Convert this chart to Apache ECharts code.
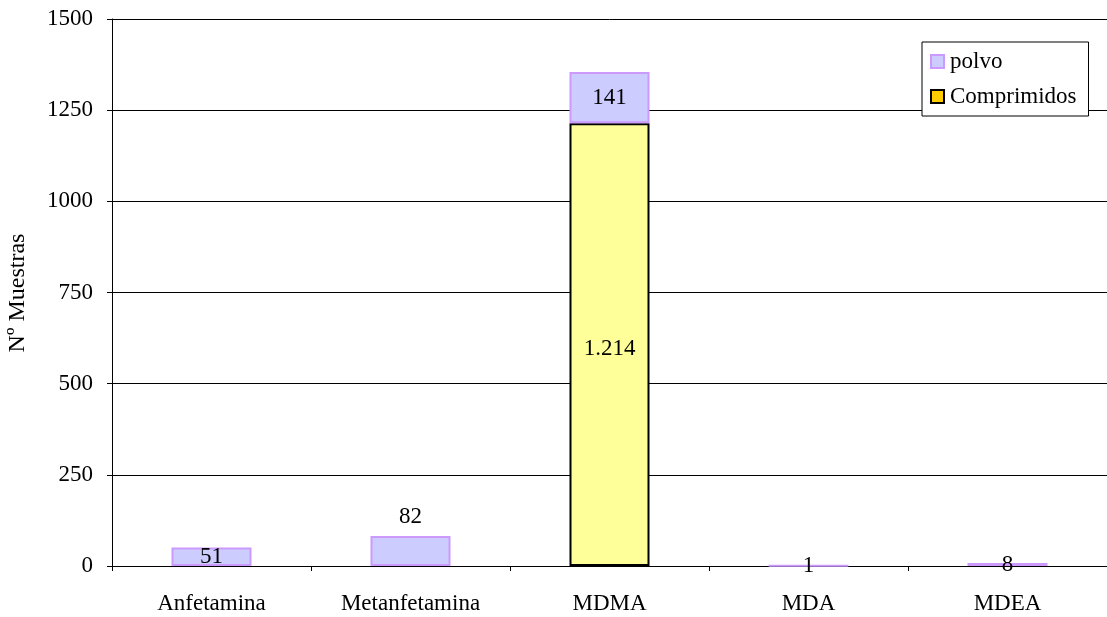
<!DOCTYPE html>
<html>
<head>
<meta charset="utf-8">
<script src="https://cdn.jsdelivr.net/npm/echarts@6/dist/echarts.min.js"></script>
<style>html,body{margin:0;padding:0;background:#fff;}#c{width:1107px;height:617px;}</style>
</head>
<body>
<div id="c"></div>
<script>
const categories = ['Anfetamina', 'Metanfetamina', 'MDMA', 'MDA', 'MDEA'];
const comprimidos = [null, null, 1214, null, null];
const polvo = [51, 82, 141, 1, 8];
const polvoLabelPos = ['inside', 'top', 'inside', 'inside', 'inside'];
const yTicks = { min: 0, max: 1500, interval: 250 };

const FONT = 'Liberation Serif';
const FS = 23;
const fmt = v => String(v).replace(/\B(?=(\d{3})+(?!\d))/g, '.');

const chart = echarts.init(document.getElementById('c'), null, { renderer: 'canvas' });
chart.setOption({
  animation: false,
  backgroundColor: '#fff',
  textStyle: { fontFamily: FONT },
  grid: { left: 112, top: 19, width: 1000, height: 547, containLabel: false },
  legend: {
    left: 922, top: 42, orient: 'vertical', icon: 'rect',
    backgroundColor: '#fff', borderColor: '#000', borderWidth: 1,
    padding: [8, 12, 8, 8], itemWidth: 13, itemHeight: 13, itemGap: 12,
    textStyle: { fontFamily: FONT, fontSize: FS, color: '#000', padding: [0, 0, 0, 1] },
    data: [
      { name: 'polvo', itemStyle: { color: '#CCCCFF', borderColor: '#CC99FF', borderWidth: 2 } },
      { name: 'Comprimidos', itemStyle: { color: '#FFCC00', borderColor: '#000', borderWidth: 2 } }
    ]
  },
  xAxis: {
    type: 'category', data: categories,
    axisLine: { lineStyle: { color: '#000', width: 1 } },
    axisTick: { show: true, length: 5, lineStyle: { color: '#000' } },
    axisLabel: { color: '#000', fontSize: FS, fontFamily: FONT, margin: 26 },
    splitLine: { show: false }
  },
  yAxis: {
    type: 'value', min: yTicks.min, max: yTicks.max, interval: yTicks.interval,
    axisLine: { show: true, lineStyle: { color: '#000', width: 1 } },
    axisTick: { show: true, length: 5, lineStyle: { color: '#000' } },
    axisLabel: { color: '#000', fontSize: FS, fontFamily: FONT, margin: 19, formatter: v => String(v) },
    splitLine: { show: true, lineStyle: { color: '#000', width: 1 } }
  },
  graphic: [{
    type: 'text', x: 18, y: 293, rotation: Math.PI / 2,
    style: { text: 'Nº Muestras', font: '24px "Liberation Serif"', fill: '#000', align: 'center', verticalAlign: 'middle' }
  }],
  series: [
    {
      name: 'Comprimidos', type: 'bar', stack: 'a', barWidth: 80,
      data: comprimidos,
      itemStyle: { color: '#FFFF99', borderColor: '#000', borderWidth: 2 },
      label: { show: true, position: 'inside', color: '#000', fontSize: FS, fontFamily: FONT, offset: [0, 4], formatter: p => fmt(p.value) }
    },
    {
      name: 'polvo', type: 'bar', stack: 'a', barWidth: 80,
      data: polvo.map((v, i) => ({ value: v, label: { position: polvoLabelPos[i], distance: 8 } })),
      itemStyle: { color: '#CCCCFF', borderColor: '#CC99FF', borderWidth: 2 },
      label: { show: true, color: '#000', fontSize: FS, fontFamily: FONT, formatter: p => fmt(p.value) }
    }
  ]
});
</script>
</body>
</html>
